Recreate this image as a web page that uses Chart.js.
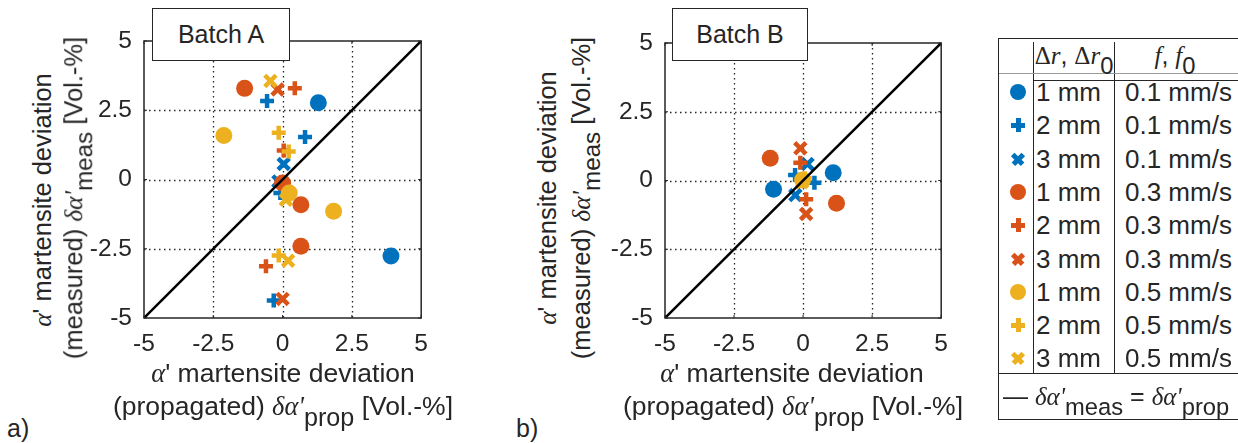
<!DOCTYPE html>
<html lang="en">
<head>
<meta charset="UTF-8">
<title>Martensite deviation</title>
<script src="https://cdn.jsdelivr.net/npm/chart.js"></script>
<style>
    body {
        margin: 0;
        width: 1238px;
        height: 443px;
        overflow: hidden;
        background: #fff;
        position: relative;
        font-family: 'Liberation Sans', Arial, sans-serif;
        color: #262626;
    }
    canvas { position: absolute; top: 0; }
    .m { font-family: 'Liberation Serif', 'DejaVu Serif', serif; font-style: italic; }
    .sub { font-size: 0.95em; position: relative; top: 0.42em; }
    .xt, .yt {
        position: absolute;
        white-space: nowrap;
        line-height: 1;
    }
    .xt { font-size: 26.5px; transform: translate(-50%, -50%); }
    .yt { font-size: 25.5px; transform: translate(-50%, -50%) rotate(-90deg); }
    .batch {
        position: absolute;
        top: 8px;
        height: 51px;
        border: 1.5px solid #262626;
        background: #fff;
        font-size: 25px;
        line-height: 51px;
        text-align: center;
        z-index: 2;
    }
    .panel { position: absolute; top: 414px; font-size: 25px; }
    #legend {
        position: absolute;
        left: 998px;
        top: 38px;
        width: 270px;
        height: 382px;
        border: 1.5px solid #262626;
        box-sizing: border-box;
    }
    .vl { position: absolute; top: 3px; width: 0; height: 332px; border-left: 1.5px solid #262626; }
    .hl { position: absolute; left: 0; right: 0; height: 0; }
    .row { position: absolute; left: 0; width: 270px; height: 33px; font-size: 26px; line-height: 33px; }
    .row .c1 { position: absolute; left: 37px; }
    .row .c2 { position: absolute; left: 126px; }
    .mk { position: absolute; left: 19px; top: 16px; }
    .mk.circle { width: 16px; height: 16px; border-radius: 50%; margin: -8px 0 0 -8px; }
    .mk.cross, .mk.crossRot { width: 14px; height: 14px; margin: -7px 0 0 -7px; }
    .mk.crossRot { transform: rotate(45deg); }
    .mk .h { position: absolute; left: 0; top: 4.5px; width: 14px; height: 5px; }
    .mk .v { position: absolute; top: 0; left: 4.5px; width: 5px; height: 14px; }
</style>
</head>
<body>
<canvas id="chartA" width="350" height="372" style="left:90px"></canvas>
<canvas id="chartB" width="350" height="372" style="left:610px"></canvas>

<div class="batch" style="left:152px; width:136px;">Batch A</div>
<div class="batch" style="left:672px; width:134px;">Batch B</div>

<div class="yt" style="left:43px; top:200px;"><span class="m">α</span>' martensite deviation</div>
<div class="yt" style="left:74px; top:198px;">(measured) <span class="m">δα'</span><span class="sub">meas</span> [Vol.-%]</div>
<div class="xt" style="left:283px; top:373px;"><span class="m">α</span>' martensite deviation</div>
<div class="xt" style="left:283px; top:406px;">(propagated) <span class="m">δα'</span><span class="sub">prop</span> [Vol.-%]</div>

<div class="yt" style="left:548px; top:198px;"><span class="m">α</span>' martensite deviation</div>
<div class="yt" style="left:582px; top:198px;">(measured) <span class="m">δα'</span><span class="sub">meas</span> [Vol.-%]</div>
<div class="xt" style="left:792px; top:373px;"><span class="m">α</span>' martensite deviation</div>
<div class="xt" style="left:793px; top:406px;">(propagated) <span class="m">δα'</span><span class="sub">prop</span> [Vol.-%]</div>

<div class="panel" style="left:7px;">a)</div>
<div class="panel" style="left:516px;">b)</div>

<div id="legend"></div>

<script>
    // series: 3 feed rates x 3 radii
    const speeds = ['0.1 mm/s', '0.3 mm/s', '0.5 mm/s'];
    const radii = ['1 mm', '2 mm', '3 mm'];
    const colors = ['#0072BD', '#D95319', '#EDB120'];
    const markers = ['circle', 'cross', 'crossRot'];

    // Batch A, one inner list per series (speed-major order)
    const batchAX = [
        [1.29, 3.91],
        [-0.56, 0.81, -0.32, -0.08],
        [0.04, -0.15],
        [-1.37, 0.66, 0.66, 0.0],
        [0.44, -0.60, 0.04],
        [-0.18, 0.0],
        [-2.12, 1.84, 0.24],
        [-0.14, 0.22, -0.14],
        [-0.44, 0.20, 0.12]
    ];
    const batchAY = [
        [2.77, -2.76],
        [2.83, 1.53, -4.37, -0.49],
        [0.56, -0.07],
        [3.29, -0.91, -2.41, -0.13],
        [3.29, -3.13, 1.05],
        [3.25, -4.31],
        [1.59, -1.15, -0.49],
        [1.69, 1.01, -2.74],
        [3.56, -2.93, -0.73]
    ];

    // Batch B
    const batchBX = [
        [-1.07, 1.09],
        [-0.29, 0.41],
        [0.16, -0.28],
        [-1.19, 1.21],
        [-0.10, 0.11],
        [-0.10, 0.11],
        [-0.02],
        [0.06],
        [-0.04]
    ];
    const batchBY = [
        [-0.32, 0.28],
        [0.20, -0.08],
        [0.60, -0.53],
        [0.81, -0.83],
        [0.65, -0.68],
        [1.17, -1.22],
        [0.02],
        [0.08],
        [-0.06]
    ];

    const identityX = [-5, 5];
    const identityY = [-5, 5];

    const tickValues = [-5, -2.5, 0, 2.5, 5];
    const tickLabels = ['-5', '-2.5', '0', '2.5', '5'];

    Chart.defaults.font.family = "'Liberation Sans', Arial, sans-serif";
    Chart.defaults.color = '#262626';

    // dotted grid under the points
    const gridPlugin = {
        id: 'dotgrid',
        beforeDatasetsDraw(chart) {
            const { ctx, chartArea: a, scales } = chart;
            ctx.save();
            ctx.strokeStyle = '#262626';
            ctx.lineWidth = 1.3;
            ctx.setLineDash([1.5, 3.5]);
            ctx.beginPath();
            tickValues.slice(1, -1).forEach(v => {
                const px = Math.round(scales.x.getPixelForValue(v)) + 0.5;
                const py = Math.round(scales.y.getPixelForValue(v)) + 0.5;
                ctx.moveTo(px, a.top); ctx.lineTo(px, a.bottom);
                ctx.moveTo(a.left, py); ctx.lineTo(a.right, py);
            });
            ctx.stroke();
            ctx.restore();
        }
    };

    // box around the axes + small inward ticks, like MATLAB
    const framePlugin = {
        id: 'frame',
        afterDatasetsDraw(chart) {
            const { ctx, chartArea: a, scales } = chart;
            ctx.save();
            ctx.strokeStyle = '#262626';
            ctx.lineWidth = 1.5;
            ctx.strokeRect(a.left, a.top, a.right - a.left, a.bottom - a.top);
            ctx.lineWidth = 1;
            ctx.beginPath();
            tickValues.forEach(v => {
                const px = scales.x.getPixelForValue(v);
                const py = scales.y.getPixelForValue(v);
                ctx.moveTo(px, a.bottom); ctx.lineTo(px, a.bottom - 3);
                ctx.moveTo(px, a.top); ctx.lineTo(px, a.top + 3);
                ctx.moveTo(a.left, py); ctx.lineTo(a.left + 3, py);
                ctx.moveTo(a.right, py); ctx.lineTo(a.right - 3, py);
            });
            ctx.stroke();
            ctx.restore();
        }
    };

    function axis(fit) {
        return {
            type: 'linear',
            min: -5,
            max: 5,
            afterBuildTicks: s => { s.ticks = tickValues.map(v => ({ value: v })); },
            afterFit: fit,
            ticks: {
                font: { size: 24.5 },
                color: '#262626',
                padding: 12,
                maxRotation: 0,
                autoSkip: false,
                callback: (v, i) => tickLabels[i]
            },
            grid: { display: false, drawTicks: false },
            border: { display: false }
        };
    }

    function makeChart(id, xs, ys, yWidth, pad) {
        const datasets = [{
            type: 'line',
            data: identityX.map((x, i) => ({ x: x, y: identityY[i] })),
            borderColor: '#000',
            borderWidth: 2.5,
            pointRadius: 0,
            order: 0
        }];
        xs.forEach((list, i) => {
            const c = colors[Math.floor(i / 3)];
            const style = markers[i % 3];
            datasets.push({
                label: radii[i % 3] + ' ' + speeds[Math.floor(i / 3)],
                data: list.map((x, j) => ({ x: x, y: ys[i][j] })),
                pointStyle: style,
                pointRadius: style === 'circle' ? 8.5 : (style === 'cross' ? 7 : 8),
                backgroundColor: c,
                borderColor: c,
                borderWidth: style === 'circle' ? 0 : 4.5,
                order: 9 - i
            });
        });
        return new Chart(document.getElementById(id), {
            type: 'scatter',
            data: { datasets: datasets },
            options: {
                responsive: false,
                animation: false,
                events: [],
                layout: { padding: pad },
                plugins: { legend: { display: false }, tooltip: { enabled: false } },
                scales: {
                    x: axis(s => { s.height = 40; }),
                    y: axis(s => { s.width = yWidth; })
                }
            },
            plugins: [gridPlugin, framePlugin]
        });
    }

    makeChart('chartA', batchAX, batchAY, 54, { left: 0, top: 41, right: 18, bottom: 14 });
    makeChart('chartB', batchBX, batchBY, 55, { left: 0, top: 43, right: 17.5, bottom: 14 });

    // legend table
    const legend = document.getElementById('legend');
    let html = '';
    html += '<div class="vl" style="left:34px"></div><div class="vl" style="left:115px"></div>';
    html += '<div class="hl" style="top:34px; border-top:1px solid #999"></div>';
    html += '<div class="hl" style="top:41px; left:34px; border-top:1.5px solid #262626"></div>';
    html += '<div class="hl" style="top:334px; border-top:1.5px solid #262626"></div>';
    html += '<div style="position:absolute; left:35px; width:80px; top:2px; text-align:center; font-size:25px;">' +
            '<span style="font-family:\'Liberation Serif\',serif">Δ</span><span class="m">r</span>, ' +
            '<span style="font-family:\'Liberation Serif\',serif">Δ</span><span class="m">r</span><span class="sub">0</span></div>';
    html += '<div style="position:absolute; left:116px; width:120px; top:2px; text-align:center; font-size:25px;">' +
            '<span class="m">f</span>, <span class="m">f</span><span class="sub">0</span></div>';
    for (let i = 0; i < 9; i++) {
        const c = colors[Math.floor(i / 3)];
        const style = markers[i % 3];
        let mk;
        if (style === 'circle') {
            mk = '<div class="mk circle" style="background:' + c + '"></div>';
        } else {
            mk = '<div class="mk ' + style + '"><div class="h" style="background:' + c + '"></div>' +
                 '<div class="v" style="background:' + c + '"></div></div>';
        }
        html += '<div class="row" style="top:' + (37 + i * 33.3) + 'px">' + mk +
                '<span class="c1">' + radii[i % 3] + '</span><span class="c2">' + speeds[Math.floor(i / 3)] + '</span></div>';
    }
    html += '<div style="position:absolute; left:4px; top:343px; font-size:25px; white-space:nowrap;">' +
            '— <span class="m">δα\'</span><span class="sub">meas</span> = <span class="m">δα\'</span><span class="sub">prop</span></div>';
    legend.innerHTML = html;
</script>
</body>
</html>
